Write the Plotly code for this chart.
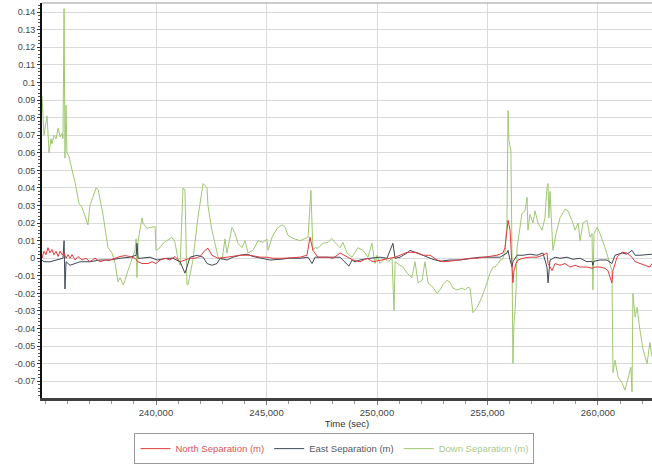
import plotly.graph_objects as go

# ---- data ----
down_t = [234840, 234930, 235070, 235160, 235250, 235290, 235380, 235480, 235570, 235660,
          235750, 235790, 235840, 235880, 235930, 235970, 236060, 236150, 236240, 236340,
          236430, 236520, 236650, 236740, 236920, 237010, 237150, 237290, 237380, 237470,
          237600, 237740, 237830, 238010, 238150, 238280, 238370, 238510, 238600, 238730,
          239050, 239100, 239140, 239190, 239370, 239410, 239590, 239730, 239960, 240000,
          240180, 240320, 240500, 240720, 240860, 241000, 241090, 241220, 241310, 241400,
          241450, 241670, 241900, 242130, 242310, 242350, 242530, 242670, 242810, 242990,
          243120, 243210, 243440, 243580, 243710, 243890, 244030, 244160, 244390, 244620,
          244840, 245020, 245070, 245250, 245480, 245700, 245840, 245970, 246200, 246520,
          246740, 246880, 247010, 247100, 247200, 247330, 247560, 247780, 247960, 248100,
          248330, 248460, 248640, 248870, 249140, 249370, 249590, 249770, 249910, 250000,
          250140, 250360, 250500, 250680, 250770, 250820, 251040, 251180, 251360, 251580,
          251720, 251860, 252040, 252170, 252310, 252530, 252720, 252850, 252990, 253170,
          253300, 253440, 253620, 253850, 253980, 254120, 254210, 254340, 254530, 254750,
          254980, 255110, 255250, 255340, 255480, 255570, 255660, 255790, 255880, 255930,
          255970, 256060, 256110, 256150, 256200, 256250, 256290, 256340, 256430, 256560,
          256700, 256790, 256830, 256920, 257060, 257150, 257290, 257470, 257600, 257690,
          257740, 257780, 257830, 257920, 257960, 258100, 258280, 258510, 258640, 258820,
          258960, 259100, 259190, 259320, 259500, 259640, 259730, 259770, 259820, 259960,
          260090, 260320, 260450, 260630, 260680, 260770, 260910, 261090, 261220, 261360,
          261490, 261540, 261580, 261680, 261770, 261900, 262040, 262220, 262350, 262440]
down_m = [0.0925, 0.070, 0.081, 0.060, 0.068, 0.065, 0.070, 0.068, 0.074, 0.069,
          0.071, 0.068, 0.142, 0.057, 0.087, 0.060, 0.058, 0.052, 0.048, 0.043,
          0.036, 0.031, 0.029, 0.026, 0.019, 0.030, 0.035, 0.040, 0.039, 0.034,
          0.025, 0.013, 0.006, 0.003, -0.003, -0.0135, -0.011, -0.015, -0.0125, -0.007,
          0.0045, 0.011, -0.011, 0.010, 0.023, 0.020, 0.017, 0.0175, 0.018, 0.0045,
          0.006, 0.0085, 0.010, 0.012, 0.009, -0.001, -0.004, 0.040, 0.039, -0.015,
          -0.015, -0.001, 0.0235, 0.0425, 0.040, 0.030, 0.016, 0.0085, 0.0006, -0.001,
          0.011, 0.003, 0.0176, 0.014, 0.0085, 0.006, 0.010, 0.003, 0.0045, 0.010,
          0.009, 0.011, 0.0045, 0.012, 0.017, 0.019, 0.0176, 0.013, 0.0113, 0.010,
          0.011, 0.012, 0.0386, 0.0045, 0.006, 0.0057, 0.0085, 0.009, 0.0113, 0.009,
          0.006, 0.009, 0.003, 0.0006, 0.006, 0.0045, 0.0006, 0.0085, -0.003, 0.0017,
          -0.003, 0.0, -0.002, 0.0, -0.0295, -0.002, -0.004, -0.005, -0.0085, -0.011,
          -0.002, -0.014, -0.0125, -0.002, -0.014, -0.0165, -0.020, -0.018, -0.015, -0.0125,
          -0.0136, -0.017, -0.018, -0.017, -0.018, -0.0165, -0.017, -0.031, -0.028, -0.022,
          -0.014, -0.0085, -0.005, -0.005, -0.003, -0.001, -0.001, 0.003, 0.020, 0.084,
          0.067, 0.061, 0.000, -0.0597, -0.037, -0.0295, -0.018, 0.006, 0.014, 0.0255,
          0.027, 0.0347, 0.016, 0.025, 0.020, 0.027, 0.020, 0.016, 0.023, 0.040,
          0.0425, 0.023, 0.038, 0.016, 0.0045, 0.014, 0.023, 0.028, 0.027, 0.0216,
          0.016, 0.020, 0.010, 0.020, 0.0216, 0.012, 0.014, -0.018, 0.014, 0.0176,
          0.014, 0.006, 0.0006, -0.007, -0.065, -0.058, -0.0675, -0.071, -0.075, -0.069,
          -0.062, -0.076, -0.020, -0.0335, -0.028, -0.041, -0.052, -0.060, -0.048, -0.056]

north_t = [234840, 234930, 235020, 235110, 235200, 235290, 235380, 235480, 235570, 235660,
           235750, 235840, 235930, 236020, 236110, 236200, 236340, 236470, 236650, 236830,
           237010, 237240, 237470, 237690, 237920, 238150, 238370, 238600, 238820, 239050,
           239190, 239370, 239640, 239820, 240000, 240180, 240410, 240630, 240860, 241090,
           241310, 241540, 241770, 241990, 242220, 242350, 242530, 242810, 243210, 243480,
           243800, 244250, 244710, 245020, 245290, 245750, 246200, 246520, 246830, 246970,
           247100, 247330, 247740, 248010, 248330, 248640, 248910, 249230, 249550, 249820,
           250270, 250590, 250820, 251040, 251360, 251580, 251860, 252080, 252400, 252720,
           252990, 253300, 253620, 253890, 254210, 254530, 254800, 255110, 255430, 255700,
           255790, 255880, 255930, 256020, 256060, 256110, 256150, 256200, 256290, 256380,
           256610, 256920, 257240, 257510, 257690, 257740, 257920, 258060, 258280, 258510,
           258730, 258960, 259190, 259500, 259730, 259870, 260090, 260320, 260450, 260630,
           260680, 260860, 261090, 261310, 261540, 261680, 261900, 262130, 262350, 262440]
north_m = [0.0, 0.004, 0.002, 0.006, 0.003, 0.005, 0.002, 0.004, 0.001, 0.004,
           0.002, 0.003, 0.0, 0.002, 0.0, 0.002, -0.001, 0.001, -0.001, 0.0,
           -0.002, 0.0, -0.002, -0.001, -0.001, 0.0, 0.001, 0.0015, 0.001, 0.0,
           -0.002, -0.003, -0.003, -0.002, -0.003, -0.001, 0.0, -0.001, 0.001, -0.002,
           -0.001, 0.0, 0.0, 0.001, 0.0045, 0.0057, 0.0017, 0.0, 0.0006, 0.001,
           0.0017, 0.0017, 0.0006, 0.0006, 0.0, 0.0, 0.0006, 0.0006, 0.0017, 0.012,
           0.0045, 0.0006, 0.0006, 0.0, 0.003, 0.0006, -0.001, -0.002, 0.0, -0.002,
           -0.001, 0.0, 0.0006, 0.0017, 0.0034, 0.0034, 0.003, 0.0017, 0.0017, -0.001,
           -0.002, -0.0017, -0.001, -0.0006, 0.0, 0.0, 0.0006, 0.001, 0.0017, 0.003,
           0.006, 0.016, 0.0216, 0.016, 0.006, -0.011, -0.014, -0.007, -0.003, -0.001,
           0.0, 0.0006, 0.0006, 0.0017, 0.003, -0.003, -0.007, -0.003, -0.004, -0.003,
           -0.005, -0.004, -0.005, -0.005, -0.0057, -0.005, -0.005, -0.0057, -0.007, -0.014,
           -0.007, 0.0006, 0.0034, 0.003, 0.0006, -0.002, -0.003, -0.004, -0.005, -0.003]

east_t = [234840, 234930, 235200, 235520, 235790, 235840, 235880, 235930, 236110, 236560,
          237010, 237470, 237920, 238370, 238820, 239100, 239140, 239190, 239280, 239730,
          240050, 240500, 240770, 241090, 241310, 241400, 241540, 241860, 242130, 242310,
          242530, 242760, 242900, 243210, 243480, 243800, 244120, 244390, 244840, 245160,
          245610, 246060, 246520, 246880, 247060, 247200, 247740, 248010, 248330, 248730,
          248870, 249010, 249230, 249680, 250140, 250450, 250720, 250820, 251040, 251360,
          251490, 251810, 252260, 252530, 252850, 253300, 253760, 254210, 254660, 255110,
          255570, 255880, 255930, 256020, 256110, 256150, 256340, 256610, 256920, 257240,
          257510, 257690, 257740, 257830, 258060, 258280, 258600, 258870, 259190, 259500,
          259730, 259770, 259820, 260090, 260410, 260630, 260770, 261090, 261310, 261540,
          261680, 261900, 262220, 262440]
east_m = [-0.001, -0.002, -0.002, -0.001, 0.0, 0.010, -0.0175, -0.002, -0.004, -0.002,
          -0.002, -0.001, -0.001, 0.0, 0.0006, 0.0017, 0.0085, 0.0, 0.0, 0.0006,
          -0.001, 0.0, 0.0, -0.002, -0.0085, -0.005, 0.0006, 0.0017, 0.0006, -0.003,
          -0.004, -0.003, 0.0, -0.001, 0.0006, 0.0017, 0.0023, 0.001, 0.0, -0.001,
          -0.0006, 0.0, 0.0, 0.0006, -0.003, 0.0006, 0.0006, 0.0006, 0.0006, -0.0045,
          -0.001, -0.002, -0.001, 0.0, 0.0006, 0.0, 0.0085, 0.0, 0.0006, 0.003,
          0.0045, 0.003, 0.0006, -0.0006, -0.0017, -0.001, -0.001, 0.0, 0.0006, 0.0006,
          0.0006, 0.003, 0.0045, -0.001, -0.005, -0.002, 0.0017, 0.0017, 0.0023, 0.0017,
          0.003, -0.005, -0.014, -0.001, 0.0006, 0.0, 0.0006, -0.0006, 0.0, -0.002,
          -0.0017, -0.004, -0.0017, -0.001, -0.001, -0.003, 0.0017, 0.003, 0.0023, 0.0045,
          0.0017, 0.0017, 0.0023, 0.0023]

y_tickvals = [-0.07, -0.06, -0.05, -0.04, -0.03, -0.02, -0.01, 0, 0.01, 0.02, 0.03, 0.04,
              0.05, 0.06, 0.07, 0.08, 0.09, 0.1, 0.11, 0.12, 0.13, 0.14]
y_ticktext = ["-0.07", "-0.06", "-0.05", "-0.04", "-0.03", "-0.02", "-0.01", "0", "0.01",
              "0.02", "0.03", "0.04", "0.05", "0.06", "0.07", "0.08", "0.09", "0.1",
              "0.11", "0.12", "0.13", "0.14"]
x_tickvals = [240000, 245000, 250000, 255000, 260000]
x_ticktext = ["240,000", "245,000", "250,000", "255,000", "260,000"]

C_NORTH = "#e23b3b"
C_EAST = "#3f4757"
C_DOWN = "#a0c873"
FONT = "Liberation Sans, Arial, sans-serif"

fig = go.Figure()
fig.add_trace(go.Scatter(x=down_t, y=down_m, mode="lines",
                         line=dict(color=C_DOWN, width=1),
                         name="<span style='color:#a9cb8c'>Down Separation (m)</span>"))
fig.add_trace(go.Scatter(x=east_t, y=east_m, mode="lines",
                         line=dict(color=C_EAST, width=1),
                         name="<span style='color:#555a64'>East Separation (m)</span>"))
fig.add_trace(go.Scatter(x=north_t, y=north_m, mode="lines",
                         line=dict(color=C_NORTH, width=1),
                         name="<span style='color:#d9565a'>North Separation (m)</span>"))

fig.update_layout(
    width=652, height=466,
    margin=dict(l=42, r=0, t=3, b=68, autoexpand=False),
    paper_bgcolor="white", plot_bgcolor="white",
    font=dict(family=FONT, size=10, color="#444"),
    showlegend=True,
    legend=dict(orientation="h", traceorder="reversed",
                xref="container", yref="container",
                x=0.513, xanchor="center", y=0.004, yanchor="bottom",
                bordercolor="#9a9a9a", borderwidth=1,
                font=dict(size=9.5, family=FONT), itemwidth=30,
                tracegroupgap=0),
    xaxis=dict(range=[234841, 262444], tickvals=x_tickvals, ticktext=x_ticktext,
               showgrid=True, gridcolor="#dadada", gridwidth=1,
               showline=True, linecolor="#404040", linewidth=2.5,
               ticks="outside", ticklen=4, tickcolor="#777",
               minor=dict(dtick=1000, tick0=0, ticks="outside", ticklen=3,
                          tickcolor="#999", showgrid=False),
               zeroline=False, tickfont=dict(size=9.5, color="#444"),
               title=dict(text="Time (sec)", font=dict(size=9.5, color="#333"), standoff=3)),
    yaxis=dict(range=[-0.0795, 0.1452], tickvals=y_tickvals, ticktext=y_ticktext,
               showgrid=True, gridcolor="#dadada", gridwidth=1,
               showline=True, linecolor="#111", linewidth=2,
               ticks="outside", ticklen=3, tickcolor="#333",
               minor=dict(dtick=0.002, tick0=0, ticks="outside", ticklen=2,
                          tickcolor="#555", showgrid=False),
               zeroline=False, tickfont=dict(size=9, color="#444")),
    shapes=[dict(type="line", xref="paper", yref="paper", x0=0, x1=1, y0=1, y1=1,
                 line=dict(color="#999", width=1))],
)

fig.write_html("out.html", config={"displayModeBar": False},
               post_script="document.body.style.margin='0';document.body.style.overflow='hidden';")
